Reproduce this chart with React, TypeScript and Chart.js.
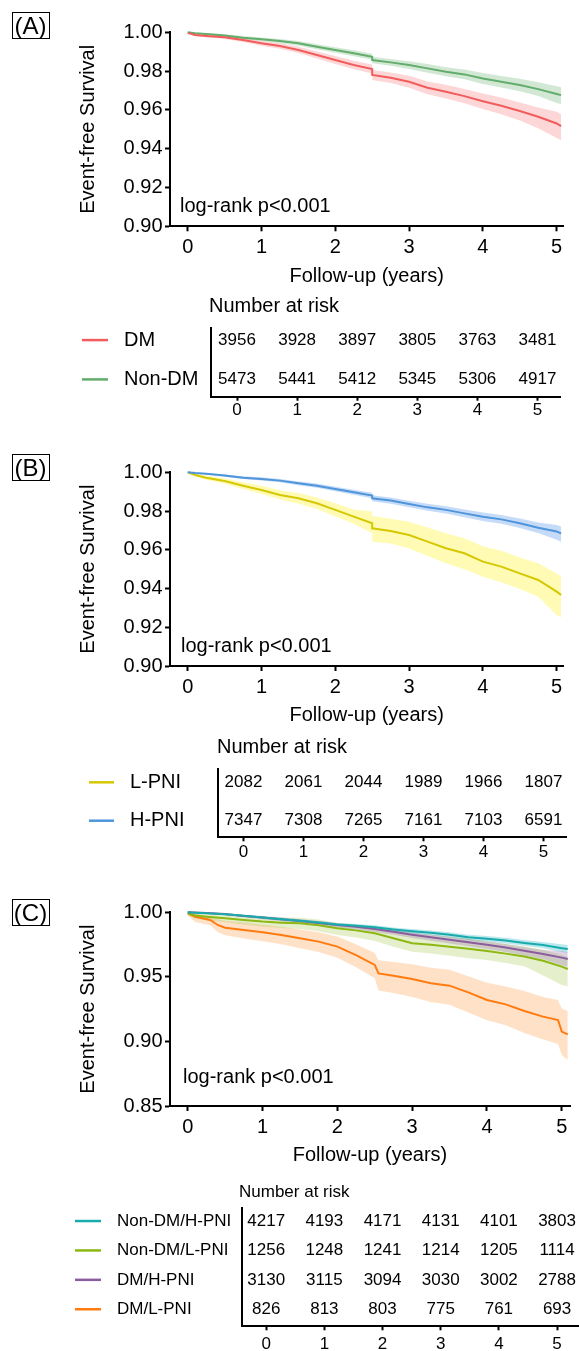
import React, { useEffect, useRef } from 'react';
import { Chart, registerables } from 'chart.js';

Chart.register(...registerables);

const FONT = "'Liberation Sans', Arial, Helvetica, sans-serif";
Chart.defaults.font.family = FONT;
Chart.defaults.color = '#000';

// ---------------- shared ticks ----------------
const xTicks = [0, 1, 2, 3, 4, 5];
const yTicksAB = [0.9, 0.92, 0.94, 0.96, 0.98, 1.0];
const yTicksC = [0.85, 0.9, 0.95, 1.0];
const riskTimes = [0, 1, 2, 3, 4, 5];

// ---------------- Panel A : DM vs Non-DM ----------------
const timeA = [0, 0.1, 0.25, 0.5, 0.75, 1, 1.25, 1.5, 1.75, 2, 2.25, 2.5, 2.5, 2.75, 3, 3.25, 3.5, 3.75, 4, 4.25, 4.5, 4.75, 5, 5.06];
const survDM = [0.9997, 0.9986, 0.9981, 0.9974, 0.996, 0.9943, 0.9929, 0.9909, 0.9883, 0.9857, 0.9831, 0.9811, 0.978, 0.9766, 0.9745, 0.9714, 0.9694, 0.9671, 0.9645, 0.9621, 0.9594, 0.9565, 0.953, 0.9516];
const upperDM = [1.0, 0.9993, 0.9988, 0.9982, 0.997, 0.9955, 0.9943, 0.9925, 0.9901, 0.9878, 0.9853, 0.9834, 0.9806, 0.9793, 0.9776, 0.9747, 0.9729, 0.9708, 0.9685, 0.9664, 0.9638, 0.9613, 0.959, 0.9578];
const lowerDM = [0.9994, 0.9979, 0.9974, 0.9966, 0.995, 0.9931, 0.9915, 0.9893, 0.9865, 0.9836, 0.9809, 0.9788, 0.9754, 0.9739, 0.9714, 0.9681, 0.9659, 0.9634, 0.9605, 0.9578, 0.9545, 0.9505, 0.9455, 0.9443];
const survNonDM = [1.0, 0.9995, 0.9991, 0.9983, 0.9972, 0.9964, 0.9955, 0.9943, 0.9926, 0.9909, 0.9892, 0.9874, 0.9857, 0.9845, 0.9831, 0.9814, 0.9797, 0.9783, 0.9762, 0.9745, 0.9728, 0.9707, 0.9682, 0.9676];
const upperNonDM = [1.0, 0.9999, 0.9996, 0.999, 0.9981, 0.9973, 0.9966, 0.9955, 0.9939, 0.9923, 0.9907, 0.989, 0.9874, 0.9863, 0.9851, 0.9836, 0.982, 0.9808, 0.979, 0.9775, 0.976, 0.9742, 0.9722, 0.9717];
const lowerNonDM = [0.9999, 0.9991, 0.9986, 0.9976, 0.9963, 0.9955, 0.9944, 0.9931, 0.9913, 0.9895, 0.9877, 0.9858, 0.984, 0.9827, 0.9811, 0.9792, 0.9774, 0.9758, 0.9734, 0.9715, 0.9696, 0.9672, 0.9635, 0.963];
const riskDM = [3956, 3928, 3897, 3805, 3763, 3481];
const riskNonDM = [5473, 5441, 5412, 5345, 5306, 4917];

// ---------------- Panel B : L-PNI vs H-PNI ----------------
const timeB = [0, 0.1, 0.25, 0.5, 0.75, 1, 1.25, 1.5, 1.75, 2, 2.25, 2.5, 2.5, 2.75, 3, 3.25, 3.5, 3.75, 4, 4.25, 4.5, 4.75, 5, 5.06];
const survLPNI = [1.0, 0.9986, 0.9972, 0.9955, 0.9931, 0.9909, 0.9883, 0.9866, 0.984, 0.9806, 0.9771, 0.9737, 0.9711, 0.9697, 0.9676, 0.9642, 0.9608, 0.9582, 0.9539, 0.9513, 0.9478, 0.9444, 0.9384, 0.9367];
const upperLPNI = [1.0, 0.9993, 0.9983, 0.9968, 0.9948, 0.993, 0.9907, 0.9893, 0.987, 0.984, 0.9808, 0.9797, 0.9775, 0.976, 0.9745, 0.9715, 0.9685, 0.966, 0.9618, 0.9595, 0.956, 0.953, 0.9478, 0.9465];
const lowerLPNI = [0.9999, 0.9978, 0.9961, 0.9941, 0.9914, 0.9888, 0.9859, 0.9838, 0.981, 0.9772, 0.9734, 0.9685, 0.9642, 0.9632, 0.9606, 0.9568, 0.953, 0.95, 0.9461, 0.9432, 0.9398, 0.9358, 0.9263, 0.925];
const survHPNI = [1.0, 0.9996, 0.9993, 0.9983, 0.9972, 0.9966, 0.9957, 0.9943, 0.9931, 0.9914, 0.9897, 0.988, 0.9866, 0.9854, 0.9836, 0.9819, 0.9806, 0.9788, 0.9771, 0.9757, 0.9737, 0.9714, 0.9694, 0.9685];
const upperHPNI = [1.0, 0.9999, 0.9997, 0.9989, 0.9979, 0.9974, 0.9966, 0.9953, 0.9942, 0.9926, 0.991, 0.9894, 0.9881, 0.987, 0.9853, 0.9837, 0.9825, 0.9808, 0.9793, 0.978, 0.9762, 0.9741, 0.9728, 0.972];
const lowerHPNI = [0.9999, 0.9993, 0.9989, 0.9977, 0.9965, 0.9958, 0.9948, 0.9933, 0.992, 0.9902, 0.9884, 0.9866, 0.9851, 0.9838, 0.9819, 0.9801, 0.9787, 0.9768, 0.9749, 0.9734, 0.9712, 0.9687, 0.9652, 0.9642];
const riskLPNI = [2082, 2061, 2044, 1989, 1966, 1807];
const riskHPNI = [7347, 7308, 7265, 7161, 7103, 6591];

// ---------------- Panel C : four groups ----------------
const timeC = [0, 0.1, 0.25, 0.5, 0.75, 1, 1.25, 1.5, 1.75, 2, 2.25, 2.5, 2.75, 3, 3.25, 3.5, 3.75, 4, 4.25, 4.5, 4.75, 5, 5.08];
const survNdHp = [1.0, 0.9997, 0.9993, 0.9984, 0.9973, 0.996, 0.9947, 0.9935, 0.9921, 0.9905, 0.9896, 0.9884, 0.9867, 0.9853, 0.9842, 0.9826, 0.9806, 0.9795, 0.9781, 0.9763, 0.9746, 0.9722, 0.9715];
const upperNdHp = [1.0, 1.0, 0.9997, 0.999, 0.998, 0.9969, 0.9957, 0.9946, 0.9933, 0.9918, 0.991, 0.9899, 0.9883, 0.987, 0.986, 0.9845, 0.9826, 0.9816, 0.9803, 0.9786, 0.977, 0.9752, 0.9746];
const lowerNdHp = [0.9999, 0.9994, 0.9989, 0.9978, 0.9966, 0.9951, 0.9937, 0.9924, 0.9909, 0.9892, 0.9882, 0.9869, 0.9851, 0.9836, 0.9824, 0.9807, 0.9786, 0.9774, 0.9759, 0.974, 0.9722, 0.9692, 0.9684];
const survNdLp = [0.9992, 0.9975, 0.9966, 0.9954, 0.994, 0.9928, 0.992, 0.9915, 0.99, 0.9876, 0.986, 0.9837, 0.9799, 0.976, 0.9748, 0.9734, 0.9718, 0.97, 0.968, 0.9657, 0.9625, 0.9579, 0.9561];
const upperNdLp = [1.0, 0.9995, 0.999, 0.9985, 0.9976, 0.9966, 0.996, 0.9957, 0.9945, 0.9915, 0.9903, 0.9885, 0.986, 0.9837, 0.9826, 0.9812, 0.9796, 0.9773, 0.9755, 0.9735, 0.971, 0.967, 0.9655];
const lowerNdLp = [0.9975, 0.995, 0.9938, 0.9922, 0.9904, 0.9889, 0.9878, 0.9871, 0.9853, 0.9824, 0.9805, 0.9778, 0.9733, 0.9695, 0.968, 0.9663, 0.9645, 0.9631, 0.9608, 0.9582, 0.951, 0.9437, 0.9425];
const survDmHp = [1.0, 0.9998, 0.9994, 0.9986, 0.9972, 0.996, 0.9946, 0.9932, 0.9918, 0.9901, 0.9888, 0.987, 0.9849, 0.9826, 0.9806, 0.9787, 0.9768, 0.9749, 0.9727, 0.9702, 0.9677, 0.9649, 0.9639];
const upperDmHp = [1.0, 1.0, 0.9998, 0.9993, 0.9981, 0.9971, 0.9959, 0.9946, 0.9933, 0.9918, 0.9906, 0.9889, 0.9869, 0.9848, 0.9829, 0.9811, 0.9793, 0.9776, 0.9755, 0.9732, 0.9709, 0.97, 0.9692];
const lowerDmHp = [0.9999, 0.9994, 0.9988, 0.9977, 0.9961, 0.9947, 0.9931, 0.9916, 0.99, 0.9882, 0.9867, 0.9848, 0.9826, 0.9801, 0.9779, 0.9758, 0.9737, 0.9716, 0.9692, 0.9665, 0.9638, 0.959, 0.958];
const timeDmLp = [0, 0.1, 0.3, 0.4, 0.5, 0.75, 1, 1.25, 1.5, 1.75, 2, 2.25, 2.5, 2.55, 2.75, 3, 3.25, 3.5, 3.75, 4, 4.25, 4.5, 4.75, 4.95, 5.0, 5.08];
const survDmLp = [0.9992, 0.9966, 0.9941, 0.9902, 0.9881, 0.9863, 0.9845, 0.9824, 0.9799, 0.9773, 0.9734, 0.9669, 0.9592, 0.9527, 0.9509, 0.9484, 0.945, 0.9432, 0.938, 0.9321, 0.9287, 0.9236, 0.9192, 0.9166, 0.9076, 0.9055];
const upperDmLp = [0.9998, 0.999, 0.997, 0.9948, 0.9935, 0.9922, 0.9906, 0.9888, 0.9867, 0.9845, 0.9812, 0.9752, 0.9685, 0.9628, 0.9615, 0.9598, 0.957, 0.9555, 0.9505, 0.9455, 0.9425, 0.939, 0.9345, 0.932, 0.9256, 0.9235];
const lowerDmLp = [0.9975, 0.9925, 0.99, 0.9848, 0.9822, 0.9798, 0.9776, 0.9752, 0.9722, 0.9692, 0.9648, 0.9575, 0.949, 0.9395, 0.9375, 0.9345, 0.9305, 0.9285, 0.9225, 0.9165, 0.9125, 0.9065, 0.9015, 0.898, 0.8895, 0.8855];
const riskNdHp = [4217, 4193, 4171, 4131, 4101, 3803];
const riskNdLp = [1256, 1248, 1241, 1214, 1205, 1114];
const riskDmHp = [3130, 3115, 3094, 3030, 3002, 2788];
const riskDmLp = [826, 813, 803, 775, 761, 693];

// ---------------- helpers ----------------
type Group = { label: string; color: string; band: string; t: number[]; s: number[]; up: number[]; lo: number[] };
type Pad = { left: number; top: number; right: number; bottom: number };

const pts = (t: number[], v: number[]) => v.slice(0, t.length).map((y, i) => ({ x: t[i], y }));
const fixedTicks = (vals: number[]) => (scale: any) => {
  scale.ticks = vals.map((v) => ({ value: v }));
};

function kmConfig(p: {
  groups: Group[];
  yMin: number;
  yMax: number;
  yTicks: number[];
  xMin: number;
  xMax: number;
  pad: Pad;
  yWidth: number;
  xHeight: number;
  logDx: number;
  logDy: number;
}): any {
  const datasets: any[] = [];
  p.groups.forEach((g, i) => {
    datasets.push({
      label: g.label,
      data: pts(g.t, g.s),
      borderColor: g.color,
      borderWidth: 2,
      pointRadius: 0,
      fill: false,
      order: i,
      clip: 6,
    });
    datasets.push({
      label: g.label + ' upper',
      data: pts(g.t, g.up),
      borderColor: 'rgba(0,0,0,0)',
      borderWidth: 0,
      pointRadius: 0,
      backgroundColor: g.band,
      fill: '+1',
      order: 10 + i,
      clip: 6,
    });
    datasets.push({
      label: g.label + ' lower',
      data: pts(g.t, g.lo),
      borderColor: 'rgba(0,0,0,0)',
      borderWidth: 0,
      pointRadius: 0,
      fill: false,
      order: 10 + i,
      clip: 6,
    });
  });
  const axisGrid = {
    display: true,
    drawOnChartArea: false,
    drawTicks: true,
    tickLength: 5,
    tickWidth: 2,
    tickColor: '#000',
  };
  return {
    type: 'line',
    data: { datasets },
    options: {
      animation: false,
      responsive: false,
      maintainAspectRatio: false,
      events: [],
      layout: { padding: p.pad },
      elements: { line: { tension: 0 }, point: { radius: 0 } },
      plugins: { legend: { display: false }, tooltip: { enabled: false } },
      scales: {
        x: {
          type: 'linear',
          min: p.xMin,
          max: p.xMax,
          afterBuildTicks: fixedTicks(xTicks),
          afterFit: (s: any) => {
            s.height = p.xHeight;
            s.paddingLeft = 0;
            s.paddingRight = 0;
          },
          ticks: { font: { size: 20 }, color: '#000', padding: 4, callback: (v: any) => String(v) },
          grid: axisGrid,
          border: { display: true, color: '#000', width: 2 },
          title: { display: true, text: 'Follow-up (years)', font: { size: 20 }, color: '#000', padding: 0 },
        },
        y: {
          type: 'linear',
          min: p.yMin,
          max: p.yMax,
          afterBuildTicks: fixedTicks(p.yTicks),
          afterFit: (s: any) => {
            s.width = p.yWidth;
            s.paddingTop = 0;
            s.paddingBottom = 0;
          },
          ticks: { font: { size: 20 }, color: '#000', padding: 2.5, callback: (v: any) => Number(v).toFixed(2) },
          grid: axisGrid,
          border: { display: true, color: '#000', width: 2 },
          title: { display: true, text: 'Event-free Survival', font: { size: 20 }, color: '#000', padding: 0 },
        },
      },
    },
    plugins: [
      {
        id: 'logrank',
        afterDraw(chart: any) {
          const { ctx, chartArea } = chart;
          ctx.save();
          ctx.font = `20px ${FONT}`;
          ctx.fillStyle = '#000';
          ctx.textAlign = 'left';
          ctx.textBaseline = 'middle';
          ctx.fillText('log-rank p<0.001', chartArea.left + p.logDx, chartArea.bottom - p.logDy);
          ctx.restore();
        },
      },
    ],
  };
}

type Row = { label: string; color: string; counts: number[] };

function riskConfig(p: {
  rows: Row[];
  xMin: number;
  xMax: number;
  yMin: number;
  yMax: number;
  pad: Pad;
  yWidth: number;
  xHeight: number;
  tickPad: number;
  numSize: number;
  labelSize: number;
  titleSize: number;
  titleX: number;
  titleY: number;
  lineX0: number;
  lineX1: number;
  textX: number;
}): any {
  const datasets = p.rows.map((r, i) => ({
    label: r.label,
    data: riskTimes.map((t, j) => ({ x: t, y: i + 1, n: r.counts[j] })),
    pointRadius: 0,
    pointHoverRadius: 0,
    borderColor: r.color,
    backgroundColor: r.color,
  }));
  return {
    type: 'scatter',
    data: { datasets },
    options: {
      animation: false,
      responsive: false,
      maintainAspectRatio: false,
      events: [],
      layout: { padding: p.pad },
      plugins: { legend: { display: false }, tooltip: { enabled: false } },
      scales: {
        x: {
          type: 'linear',
          min: p.xMin,
          max: p.xMax,
          afterBuildTicks: fixedTicks(xTicks),
          afterFit: (s: any) => {
            s.height = p.xHeight;
            s.paddingLeft = 0;
            s.paddingRight = 0;
          },
          ticks: { font: { size: 17 }, color: '#000', padding: p.tickPad, callback: (v: any) => String(v) },
          grid: { display: true, drawOnChartArea: false, drawTicks: true, tickLength: 4, tickWidth: 2, tickColor: '#000' },
          border: { display: true, color: '#000', width: 2 },
        },
        y: {
          type: 'linear',
          reverse: true,
          min: p.yMin,
          max: p.yMax,
          afterFit: (s: any) => {
            s.width = p.yWidth;
            s.paddingTop = 0;
            s.paddingBottom = 0;
          },
          ticks: { display: false },
          grid: { display: false },
          border: { display: true, color: '#000', width: 2 },
        },
      },
    },
    plugins: [
      {
        id: 'riskTable',
        afterDatasetsDraw(chart: any) {
          const { ctx } = chart;
          const yScale = chart.scales.y;
          ctx.save();
          ctx.fillStyle = '#000';
          ctx.textBaseline = 'middle';
          chart.data.datasets.forEach((ds: any, di: number) => {
            const meta = chart.getDatasetMeta(di);
            ctx.font = `${p.numSize}px ${FONT}`;
            ctx.textAlign = 'center';
            meta.data.forEach((el: any, i: number) => {
              ctx.fillText(String(ds.data[i].n), el.x, el.y);
            });
            const yy = yScale.getPixelForValue(di + 1);
            ctx.strokeStyle = ds.borderColor;
            ctx.lineWidth = 2.5;
            ctx.beginPath();
            ctx.moveTo(p.lineX0, yy);
            ctx.lineTo(p.lineX1, yy);
            ctx.stroke();
            ctx.font = `${p.labelSize}px ${FONT}`;
            ctx.textAlign = 'left';
            ctx.fillText(ds.label, p.textX, yy);
          });
          ctx.font = `${p.titleSize}px ${FONT}`;
          ctx.textAlign = 'left';
          ctx.fillText('Number at risk', p.titleX, p.titleY);
          ctx.restore();
        },
      },
    ],
  };
}

// ---------------- colours ----------------
const RED = '#f25c5c';
const GREEN = '#62ad6b';
const YELLOW = '#d6c800';
const BLUE = '#4f95dc';
const CYAN = '#19abab';
const LIME = '#8db713';
const PURPLE = '#8b5c9e';
const ORANGE = '#ff7b0f';

const groupsA: Group[] = [
  { label: 'DM', color: RED, band: 'rgba(248,140,140,0.35)', t: timeA, s: survDM, up: upperDM, lo: lowerDM },
  { label: 'Non-DM', color: GREEN, band: 'rgba(125,190,135,0.35)', t: timeA, s: survNonDM, up: upperNonDM, lo: lowerNonDM },
];
const groupsB: Group[] = [
  { label: 'H-PNI', color: BLUE, band: 'rgba(110,165,235,0.4)', t: timeB, s: survHPNI, up: upperHPNI, lo: lowerHPNI },
  { label: 'L-PNI', color: YELLOW, band: 'rgba(255,248,120,0.55)', t: timeB, s: survLPNI, up: upperLPNI, lo: lowerLPNI },
];
const groupsC: Group[] = [
  { label: 'Non-DM/H-PNI', color: CYAN, band: 'rgba(60,190,200,0.35)', t: timeC, s: survNdHp, up: upperNdHp, lo: lowerNdHp },
  { label: 'DM/H-PNI', color: PURPLE, band: 'rgba(150,110,170,0.3)', t: timeC, s: survDmHp, up: upperDmHp, lo: lowerDmHp },
  { label: 'Non-DM/L-PNI', color: LIME, band: 'rgba(180,210,110,0.35)', t: timeC, s: survNdLp, up: upperNdLp, lo: lowerNdLp },
  { label: 'DM/L-PNI', color: ORANGE, band: 'rgba(255,175,110,0.38)', t: timeDmLp, s: survDmLp, up: upperDmLp, lo: lowerDmLp },
];

const makeKmA = () =>
  kmConfig({
    groups: groupsA, yMin: 0.9, yMax: 1.0, yTicks: yTicksAB, xMin: -0.24, xMax: 5.09,
    pad: { left: 76.6, top: 32.3, right: 15.7, bottom: 2 }, yWidth: 93.4, xHeight: 61.7, logDx: 10, logDy: 19.6,
  });
const makeKmB = () =>
  kmConfig({
    groups: groupsB, yMin: 0.9, yMax: 1.0, yTicks: yTicksAB, xMin: -0.24, xMax: 5.09,
    pad: { left: 76.6, top: 32.3, right: 15.7, bottom: 3 }, yWidth: 93.4, xHeight: 61, logDx: 11, logDy: 19.3,
  });
const makeKmC = () =>
  kmConfig({
    groups: groupsC, yMin: 0.85, yMax: 1.0, yTicks: yTicksC, xMin: -0.237, xMax: 5.11,
    pad: { left: 76.6, top: 32.3, right: 9, bottom: 3 }, yWidth: 93.4, xHeight: 61, logDx: 13, logDy: 28.5,
  });

const makeRiskA = () =>
  riskConfig({
    rows: [
      { label: 'DM', color: RED, counts: riskDM },
      { label: 'Non-DM', color: GREEN, counts: riskNonDM },
    ],
    xMin: -0.426, xMax: 5.374, yMin: 0.7, yMax: 2.44,
    pad: { left: 0, top: 38.3, right: 19, bottom: 3.3 }, yWidth: 211.4, xHeight: 30, tickPad: -0.8,
    numSize: 17, labelSize: 20, titleSize: 20, titleX: 209, titleY: 16.7, lineX0: 82, lineX1: 108, textX: 124,
  });
const makeRiskB = () =>
  riskConfig({
    rows: [
      { label: 'L-PNI', color: YELLOW, counts: riskLPNI },
      { label: 'H-PNI', color: BLUE, counts: riskHPNI },
    ],
    xMin: -0.425, xMax: 5.375, yMin: 0.661, yMax: 2.432,
    pad: { left: 0, top: 39.3, right: 13, bottom: 2.7 }, yWidth: 218, xHeight: 30, tickPad: 0.5,
    numSize: 17, labelSize: 20, titleSize: 20, titleX: 217, titleY: 17, lineX0: 89, lineX1: 114, textX: 130,
  });
const makeRiskC = () =>
  riskConfig({
    rows: [
      { label: 'Non-DM/H-PNI', color: CYAN, counts: riskNdHp },
      { label: 'Non-DM/L-PNI', color: LIME, counts: riskNdLp },
      { label: 'DM/H-PNI', color: PURPLE, counts: riskDmHp },
      { label: 'DM/L-PNI', color: ORANGE, counts: riskDmLp },
    ],
    xMin: -0.416, xMax: 5.36, yMin: 0.557, yMax: 4.58,
    pad: { left: 0, top: 38, right: 1, bottom: 0.7 }, yWidth: 242, xHeight: 24, tickPad: 4,
    numSize: 17, labelSize: 17, titleSize: 17, titleX: 239, titleY: 22.5, lineX0: 75, lineX1: 101, textX: 117,
  });

// ---------------- components ----------------
function ChartCanvas({ top, height, make }: { top: number; height: number; make: () => any }) {
  const ref = useRef<HTMLCanvasElement | null>(null);
  useEffect(() => {
    if (!ref.current) return;
    const chart = new Chart(ref.current, make());
    return () => chart.destroy();
  }, []);
  return (
    <canvas
      ref={ref}
      width={579}
      height={height}
      style={{ position: 'absolute', left: 0, top, width: 579, height, display: 'block' }}
    />
  );
}

function PanelLabel({ text, top }: { text: string; top: number }) {
  return (
    <div
      style={{
        position: 'absolute',
        left: 11.5,
        top,
        width: 38,
        height: 27,
        boxSizing: 'border-box',
        border: '1px solid #000',
        display: 'flex',
        alignItems: 'center',
        justifyContent: 'center',
        fontFamily: FONT,
        fontSize: 24,
        lineHeight: 1,
        color: '#000',
        zIndex: 2,
      }}
    >
      {text}
    </div>
  );
}

export default function App() {
  return (
    <div
      style={{
        position: 'absolute',
        left: 0,
        top: 0,
        width: 579,
        height: 1351,
        background: '#fff',
        overflow: 'hidden',
        fontFamily: FONT,
      }}
    >
      <ChartCanvas top={0} height={290} make={makeKmA} />
      <ChartCanvas top={290} height={140} make={makeRiskA} />
      <ChartCanvas top={440} height={290} make={makeKmB} />
      <ChartCanvas top={730} height={140} make={makeRiskB} />
      <ChartCanvas top={880} height={290} make={makeKmC} />
      <ChartCanvas top={1170} height={181} make={makeRiskC} />
      <PanelLabel text="(A)" top={12} />
      <PanelLabel text="(B)" top={454} />
      <PanelLabel text="(C)" top={899} />
    </div>
  );
}
